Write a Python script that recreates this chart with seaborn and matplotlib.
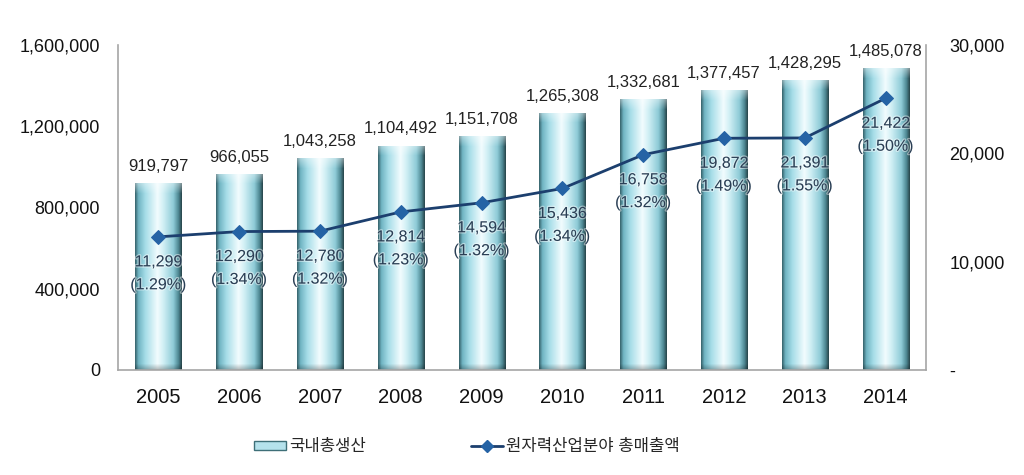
import numpy as np
import pandas as pd
import matplotlib
matplotlib.use("Agg")
import matplotlib.pyplot as plt
import seaborn as sns
from matplotlib.colors import LinearSegmentedColormap
from matplotlib.patches import Patch
from matplotlib.lines import Line2D
import matplotlib.patheffects as pe

# ---------------- data ----------------
years = ["2005", "2006", "2007", "2008", "2009", "2010", "2011", "2012", "2013", "2014"]
gdp = [919797, 966055, 1043258, 1104492, 1151708, 1265308, 1332681, 1377457, 1428295, 1485078]
# line as drawn in the picture (right axis)
sales_line = [12290, 12780, 12814, 14594, 15436, 16758, 19872, 21391, 21422, 25080]
# label texts shown under the points
sales_labels = [11299, 12290, 12780, 12814, 14594, 15436, 16758, 19872, 21391, 21422]
share_labels = ["1.29%", "1.34%", "1.32%", "1.23%", "1.32%", "1.34%", "1.32%", "1.49%", "1.55%", "1.50%"]
left_ticks = [0, 400000, 800000, 1200000, 1600000]
right_ticks = [0, 10000, 20000, 30000]
right_tick_labels = ["-", "10,000", "20,000", "30,000"]
legend_bar = "국내총생산"
legend_line = "원자력산업분야 총매출액"

sns.set_theme(style="white")
plt.rcParams["font.family"] = ["Liberation Sans", "Noto Sans CJK KR", "DejaVu Sans"]

fig = plt.figure(figsize=(10.24, 4.75), dpi=100)
ax = fig.add_axes([118 / 1024, 105 / 475, 808 / 1024, 325 / 475])

df = pd.DataFrame({"year": years, "gdp": gdp})
sns.barplot(data=df, x="year", y="gdp", ax=ax, width=0.57, color="#9fd6e2",
            saturation=1, edgecolor="none", zorder=2)
ax.set_xlim(-0.5, len(years) - 0.5)
ax.set_ylim(0, 1600000)
ax.set_yticks(left_ticks)
ax.set_yticklabels([f"{v:,}" for v in left_ticks])
ax.set_xlabel("")
ax.set_ylabel("")

# cylinder gradient
stops = [(0.0, "#36626b"), (0.07, "#6fb4c2"), (0.22, "#a6dde8"), (0.48, "#f2fcfe"),
         (0.6, "#d2f0f5"), (0.82, "#8ecbd7"), (0.93, "#4e8893"), (1.0, "#27444a")]
cmap = LinearSegmentedColormap.from_list("cyl", stops)
row = cmap(np.linspace(0, 1, 200))[:, :3]

fig.canvas.draw()
for patch in list(ax.patches):
    bb = patch.get_bbox()
    x0, x1, y0, y1 = bb.x0, bb.x1, bb.y0, bb.y1
    pix_h = ax.transData.transform((0, y1))[1] - ax.transData.transform((0, y0))[1]
    nrows = max(int(pix_h), 10)
    img = np.tile(row, (nrows, 1, 1)).copy()  # row 0 = top
    cap = 10
    for r in range(min(cap, nrows)):
        t = 1 - r / cap
        img[r] = img[r] * (1 - 0.4 * t) + 0.4 * t
    for r in range(min(6, nrows)):
        img[nrows - 1 - r] *= 0.74 + 0.045 * r
    im = ax.imshow(np.clip(img, 0, 1), extent=[x0, x1, y0, y1], aspect="auto",
                   origin="upper", zorder=2.1, interpolation="bilinear")
    im.set_clip_path(patch)
ax.set_xlim(-0.5, len(years) - 0.5)
ax.set_ylim(0, 1600000)

# bar value labels
for i, v in enumerate(gdp):
    ax.annotate(f"{v:,}", (i, v), xytext=(0, 12), textcoords="offset points",
                ha="center", va="center", fontsize=12, color="#222222", zorder=5)

# secondary axis with line
ax2 = ax.twinx()
sns.lineplot(x=np.arange(len(years)), y=sales_line, ax=ax2, color="#1c3f6e",
             linewidth=2, marker="D", markersize=7, markerfacecolor="#2563a5",
             markeredgecolor="#2563a5", zorder=4)
ax2.set_ylim(0, 30000)
ax2.set_yticks(right_ticks)
ax2.set_yticklabels(right_tick_labels)
ax2.set_xlim(-0.5, len(years) - 0.5)

glow = [pe.withStroke(linewidth=1.8, foreground="white", alpha=0.45)]
for i, (yv, s, sh) in enumerate(zip(sales_line, sales_labels, share_labels)):
    ax2.annotate(f"{s:,}", (i, yv), xytext=(0, -18), textcoords="offset points",
                 ha="center", va="center", fontsize=11.5, color="#2a3f55",
                 path_effects=glow, zorder=6)
    ax2.annotate(f"({sh})", (i, yv), xytext=(0, -34.5), textcoords="offset points",
                 ha="center", va="center", fontsize=11.5, color="#2a3f55",
                 path_effects=glow, zorder=6)

# spines & ticks
for a in (ax, ax2):
    for s in a.spines.values():
        s.set_visible(False)
ax.spines["left"].set_visible(True)
ax.spines["bottom"].set_visible(True)
ax2.spines["right"].set_visible(True)
for s in (ax.spines["left"], ax.spines["bottom"], ax2.spines["right"]):
    s.set_color("#a6a6a6")
    s.set_linewidth(1.2)
ax.tick_params(axis="y", length=0, pad=13, labelsize=13, labelcolor="#111111")
ax.tick_params(axis="x", length=0, pad=13, labelsize=14.5, labelcolor="#111111")
ax2.tick_params(axis="y", length=0, pad=17, labelsize=13, labelcolor="#111111")
ax.grid(False)
ax2.grid(False)
ax2.set_ylabel("")

# legend
handles = [Patch(facecolor="#b5e2ec", edgecolor="#3e6f78", linewidth=1.0),
           Line2D([0], [0], color="#1c3f6e", linewidth=2, marker="D", markersize=6,
                  markerfacecolor="#2563a5", markeredgecolor="#2563a5")]
fig.legend(handles, [legend_bar, legend_line], loc="center", ncol=2,
           bbox_to_anchor=(467 / 1024, 1 - 447 / 475), frameon=False, fontsize=12,
           handlelength=1.9, handleheight=0.4, handletextpad=0.2, columnspacing=6.3)

fig.savefig("out.png", dpi=100)
